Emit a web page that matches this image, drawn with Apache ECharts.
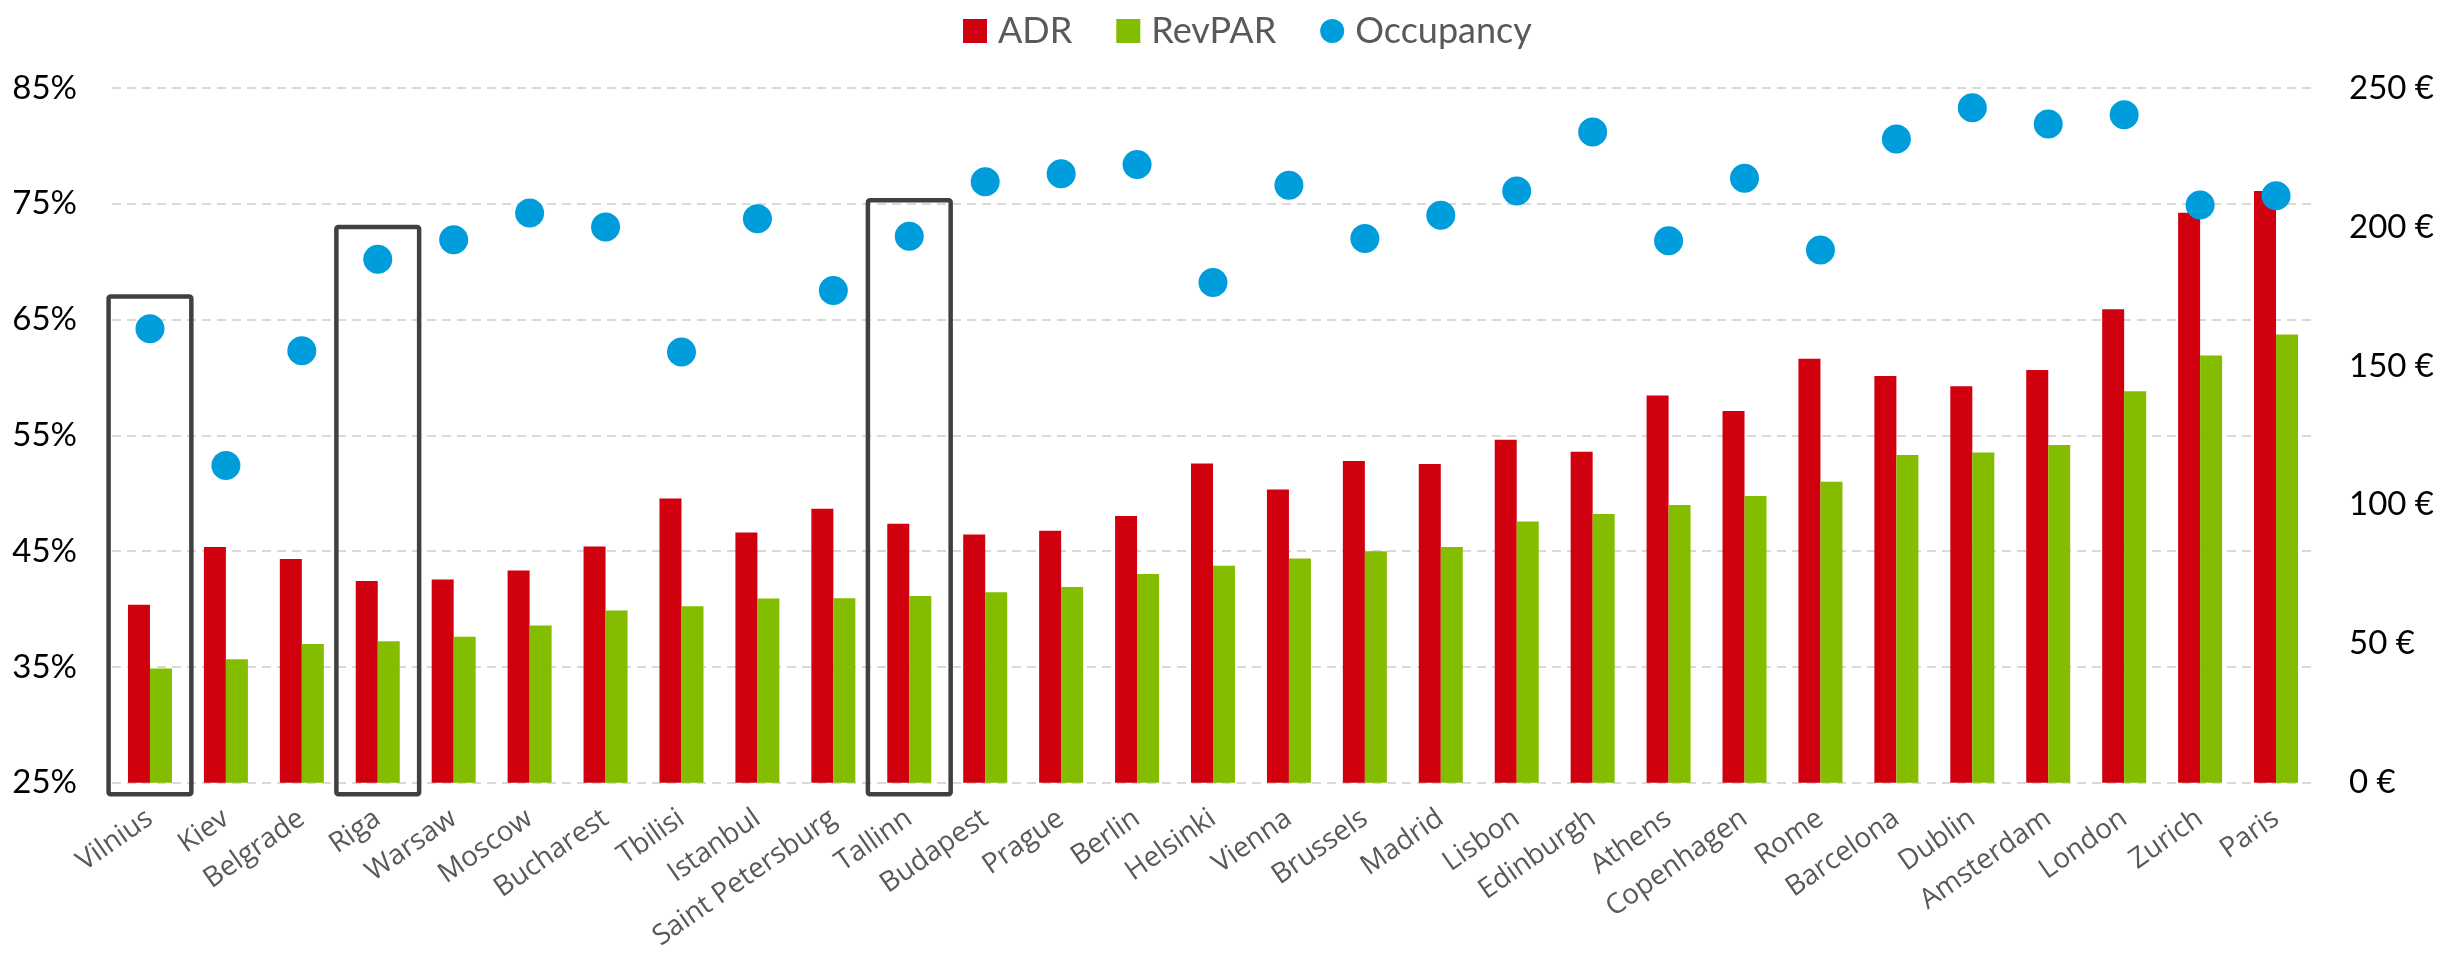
<!DOCTYPE html>
<html>
<head>
<meta charset="utf-8">
<title>Hotel performance by city</title>
<script src="https://cdn.jsdelivr.net/npm/echarts@6/dist/echarts.min.js"></script>
<style>
  html, body { margin: 0; padding: 0; background: #ffffff; }
  #chart { width: 2463px; height: 953px; }
</style>
</head>
<body>
<div id="chart"></div>
<script>
const cities = ['Vilnius', 'Kiev', 'Belgrade', 'Riga', 'Warsaw', 'Moscow', 'Bucharest', 'Tbilisi', 'Istanbul',
  'Saint Petersburg', 'Tallinn', 'Budapest', 'Prague', 'Berlin', 'Helsinki', 'Vienna', 'Brussels', 'Madrid',
  'Lisbon', 'Edinburgh', 'Athens', 'Copenhagen', 'Rome', 'Barcelona', 'Dublin', 'Amsterdam', 'London', 'Zurich', 'Paris'];

// euros, right axis
const adr = [64.0, 84.8, 80.5, 72.6, 73.1, 76.4, 85.0, 102.3, 90.0, 98.6, 93.2, 89.3, 90.7, 96.0, 114.9,
  105.5, 115.8, 114.7, 123.4, 119.1, 139.3, 133.8, 152.6, 146.4, 142.7, 148.5, 170.4, 205.1, 212.9];
const revpar = [41.1, 44.4, 49.9, 50.9, 52.5, 56.6, 62.0, 63.5, 66.3, 66.4, 67.2, 68.5, 70.4, 75.1, 78.1,
  80.7, 83.3, 84.8, 94.0, 96.7, 99.9, 103.2, 108.3, 117.9, 118.8, 121.5, 140.9, 153.7, 161.3];

// percent, left axis
const occupancy = [64.2, 52.4, 62.3, 70.2, 71.9, 74.2, 73.0, 62.2, 73.7, 67.5, 72.2, 76.9, 77.6, 78.4, 68.2,
  76.6, 72.0, 74.0, 76.1, 81.2, 71.8, 77.2, 71.0, 80.6, 83.3, 81.9, 82.7, 74.9, 75.7];

// highlighted cities, box top in occupancy %
const boxCities = ['Vilnius', 'Riga', 'Tallinn'];
const boxTops = [67.0, 73.0, 75.3];

const pctTicks = { min: 25, max: 85, interval: 10 };
const eurTicks = { min: 0, max: 250, interval: 50 };

(function () {
  const RED = '#d0000e';
  const GREEN = '#84bc00';
  const BLUE = '#009ddc';
  const AXIS_FONT = 'Lato, "Open Sans", sans-serif';
  const BOX_BOTTOM = 24; // a bit under the axis, in %

  const chart = echarts.init(document.getElementById('chart'), null, { renderer: 'canvas' });

  function axisLabel(suffix) {
    return { color: '#000000', fontSize: 33, fontFamily: AXIS_FONT, margin: 35, formatter: '{value}' + suffix };
  }

  function renderBox(params, api) {
    const top = api.coord([api.value(0), api.value(1)]);
    const bottom = api.coord([api.value(0), BOX_BOTTOM]);
    const w = api.size([1, 0])[0] * 1.09;
    return {
      type: 'rect',
      shape: { x: top[0] - w / 2, y: top[1], width: w, height: bottom[1] - top[1], r: 2 },
      style: { fill: 'none', stroke: '#404040', lineWidth: 4.5 },
    };
  }

  const option = {
    animation: false,
    backgroundColor: '#ffffff',
    legend: {
      data: [
        { name: 'ADR', icon: 'rect' },
        { name: 'RevPAR', icon: 'rect' },
        { name: 'Occupancy', icon: 'circle' },
      ],
      left: 958,
      top: 8,
      itemWidth: 24,
      itemHeight: 24,
      itemGap: 44,
      textStyle: { color: '#595959', fontSize: 36, fontFamily: AXIS_FONT, padding: [0, 0, 0, 6] },
    },
    grid: { top: 88, bottom: 167, left: 112, right: 149 },
    xAxis: {
      type: 'category',
      data: cities,
      axisLine: { show: false },
      axisTick: { show: false },
      axisLabel: {
        rotate: 35,
        interval: 0,
        color: '#595959',
        fontSize: 28,
        fontFamily: '"Open Sans", sans-serif',
        margin: 33,
      },
    },
    yAxis: [
      {
        type: 'value',
        ...pctTicks,
        axisLabel: axisLabel('%'),
        axisLine: { show: false },
        axisTick: { show: false },
        splitLine: { lineStyle: { color: '#d9d9d9', width: 2, type: [9, 6] } },
      },
      {
        type: 'value',
        ...eurTicks,
        axisLabel: axisLabel(' €'),
        axisLine: { show: false },
        axisTick: { show: false },
        splitLine: { show: false },
      },
    ],
    series: [
      {
        name: 'ADR',
        type: 'bar',
        yAxisIndex: 1,
        barWidth: 22,
        barGap: '0%',
        itemStyle: { color: RED },
        data: adr,
      },
      {
        name: 'RevPAR',
        type: 'bar',
        yAxisIndex: 1,
        barWidth: 22,
        itemStyle: { color: GREEN },
        data: revpar,
      },
      {
        name: 'Occupancy',
        type: 'scatter',
        yAxisIndex: 0,
        symbol: 'circle',
        symbolSize: 29,
        itemStyle: { color: BLUE, opacity: 1 },
        data: occupancy,
        z: 5,
      },
      {
        type: 'custom',
        yAxisIndex: 0,
        renderItem: renderBox,
        encode: { x: 0, y: 1 },
        clip: false,
        silent: true,
        z: 1,
        data: boxCities.map((city, i) => [city, boxTops[i]]),
      },
    ],
  };

  chart.setOption(option);
  window.addEventListener('resize', () => chart.resize());
})();
</script>
</body>
</html>
